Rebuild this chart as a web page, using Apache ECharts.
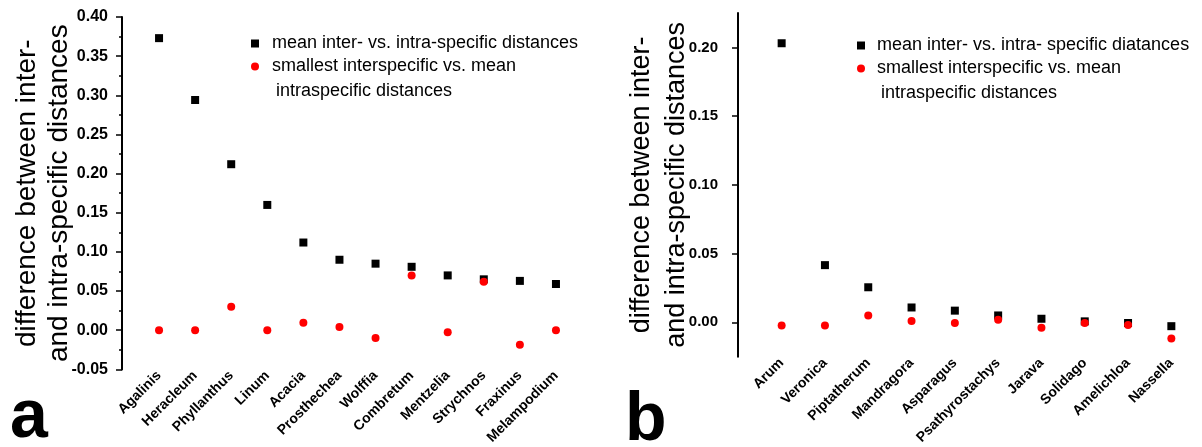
<!DOCTYPE html>
<html>
<head>
<meta charset="utf-8">
<script src="https://cdn.jsdelivr.net/npm/echarts@6/dist/echarts.min.js"></script>
<style>
html,body{margin:0;padding:0;background:#fff;}
#main{width:1202px;height:447px;}
</style>
</head>
<body>
<div id="main"></div>
<script>
// Panel a
const catsA = ['Agalinis','Heracleum','Phyllanthus','Linum','Acacia','Prosthechea','Wolffia','Combretum','Mentzelia','Strychnos','Fraxinus','Melampodium'];
const meanA = [0.373,0.294,0.212,0.160,0.112,0.090,0.085,0.081,0.070,0.065,0.063,0.059];
const smallA = [0.000,0.000,0.030,0.000,0.0095,0.004,-0.010,0.070,-0.0025,0.062,-0.0185,0.000];
// Panel b
const catsB = ['Arum','Veronica','Piptatherum','Mandragora','Asparagus','Psathyrostachys','Jarava','Solidago','Amelichloa','Nassella'];
const meanB = [0.203,0.0416,0.0255,0.0108,0.0085,0.005,0.0026,0.0007,-0.0005,-0.0028];
const smallB = [-0.0024,-0.0024,0.005,0.001,-0.0005,0.0019,-0.004,-0.0005,-0.0019,-0.0118];
const majorTicksB = [0,0.05,0.10,0.15,0.20];
const minorTicksB = [-0.025,0.025,0.075,0.125,0.175,0.225];

const nameMeanA = 'mean inter- vs. intra-specific distances';
const nameMeanB = 'mean inter- vs. intra- specific diatances';
const nameSmall = 'smallest interspecific vs. mean';
const nameSmallCont = 'intraspecific distances';
const yTitle = 'difference between inter-\nand intra-specific distances';

const FONT = '"Liberation Sans", Arial, sans-serif';

const chart = echarts.init(document.getElementById('main'), null, {renderer:'canvas'});

const xCommon = {
  type:'category',
  boundaryGap:true,
  axisLine:{show:false},
  axisTick:{show:false},
  splitLine:{show:false},
  axisLabel:{rotate:45, margin:4, color:'#000', fontFamily:FONT, fontWeight:'bold', fontSize:14, interval:0}
};

chart.setOption({
  animation:false,
  backgroundColor:'#fff',
  grid:[
    {left:141, top:17, width:433, height:365},
    {left:760, top:13, width:433, height:352}
  ],
  xAxis:[
    Object.assign({}, xCommon, {gridIndex:0, data:catsA}),
    Object.assign({}, xCommon, {gridIndex:1, data:catsB})
  ],
  yAxis:[
    {
      gridIndex:0, type:'value', min:-0.05, max:0.40, interval:0.05, offset:19,
      axisLine:{show:true, lineStyle:{color:'#000', width:2}},
      axisTick:{show:true, length:6, lineStyle:{color:'#000', width:1.5}},
      minorTick:{show:true, splitNumber:2, length:3, lineStyle:{color:'#000', width:1.5}},
      splitLine:{show:false},
      axisLabel:{margin:14, color:'#000', fontFamily:FONT, fontWeight:'bold', fontSize:16, formatter:v=>v.toFixed(2)},
      name:yTitle, nameLocation:'middle', nameGap:47, nameMoveOverlap:false,
      nameTextStyle:{color:'#000', fontFamily:FONT, fontSize:28, lineHeight:32}
    },
    {
      gridIndex:1, type:'value', min:-0.025, max:0.225, offset:22,
      axisLine:{show:true, lineStyle:{color:'#000', width:2}},
      axisTick:{show:true, length:6, customValues:majorTicksB, lineStyle:{color:'#000', width:1.5}},
      splitLine:{show:false},
      axisLabel:{margin:20, color:'#000', fontFamily:FONT, fontWeight:'bold', fontSize:15, customValues:majorTicksB, formatter:v=>v.toFixed(2)},
      name:yTitle, nameLocation:'middle', nameGap:44, nameMoveOverlap:false,
      nameTextStyle:{color:'#000', fontFamily:FONT, fontSize:27, lineHeight:35}
    },
    {
      gridIndex:1, type:'value', min:-0.025, max:0.225, offset:22,
      axisLine:{show:false},
      axisTick:{show:true, length:3, customValues:minorTicksB, lineStyle:{color:'#000', width:1.5}},
      splitLine:{show:false},
      axisLabel:{show:false}
    }
  ],
  legend:[
    {
      orient:'vertical', left:246, top:28, itemWidth:8, itemHeight:8, itemGap:2,
      data:[{name:nameMeanA, icon:'rect'},{name:nameSmall, icon:'circle'}],
      textStyle:{color:'#000', fontFamily:FONT, fontSize:18, lineHeight:21, padding:[0,0,0,8]},
      selectedMode:false
    },
    {
      orient:'vertical', left:852, top:30, itemWidth:8, itemHeight:8, itemGap:2,
      data:[{name:nameMeanB, icon:'rect'},{name:nameSmall, icon:'circle'}],
      textStyle:{color:'#000', fontFamily:FONT, fontSize:18, lineHeight:21, padding:[0,0,0,7]},
      selectedMode:false
    }
  ],
  graphic:[
    {type:'text', left:276, top:82, style:{text:nameSmallCont, fill:'#000', font:'18px '+FONT}},
    {type:'text', left:881, top:84, style:{text:nameSmallCont, fill:'#000', font:'18px '+FONT}},
    {type:'text', left:10, top:384, style:{text:'a', fill:'#000', font:'bold 68px '+FONT}},
    {type:'text', left:625, top:387, style:{text:'b', fill:'#000', font:'bold 68px '+FONT}}
  ],
  series:[
    {type:'scatter', name:nameMeanA, xAxisIndex:0, yAxisIndex:0, symbol:'rect', symbolSize:8, itemStyle:{color:'#000', opacity:1}, data:meanA},
    {type:'scatter', name:nameSmall, xAxisIndex:0, yAxisIndex:0, symbol:'circle', symbolSize:8, itemStyle:{color:'#ff0000', opacity:1}, data:smallA},
    {type:'scatter', name:nameMeanB, xAxisIndex:1, yAxisIndex:1, symbol:'rect', symbolSize:8, itemStyle:{color:'#000', opacity:1}, data:meanB},
    {type:'scatter', name:nameSmall, xAxisIndex:1, yAxisIndex:1, symbol:'circle', symbolSize:8, itemStyle:{color:'#ff0000', opacity:1}, data:smallB}
  ]
});
</script>
</body>
</html>
